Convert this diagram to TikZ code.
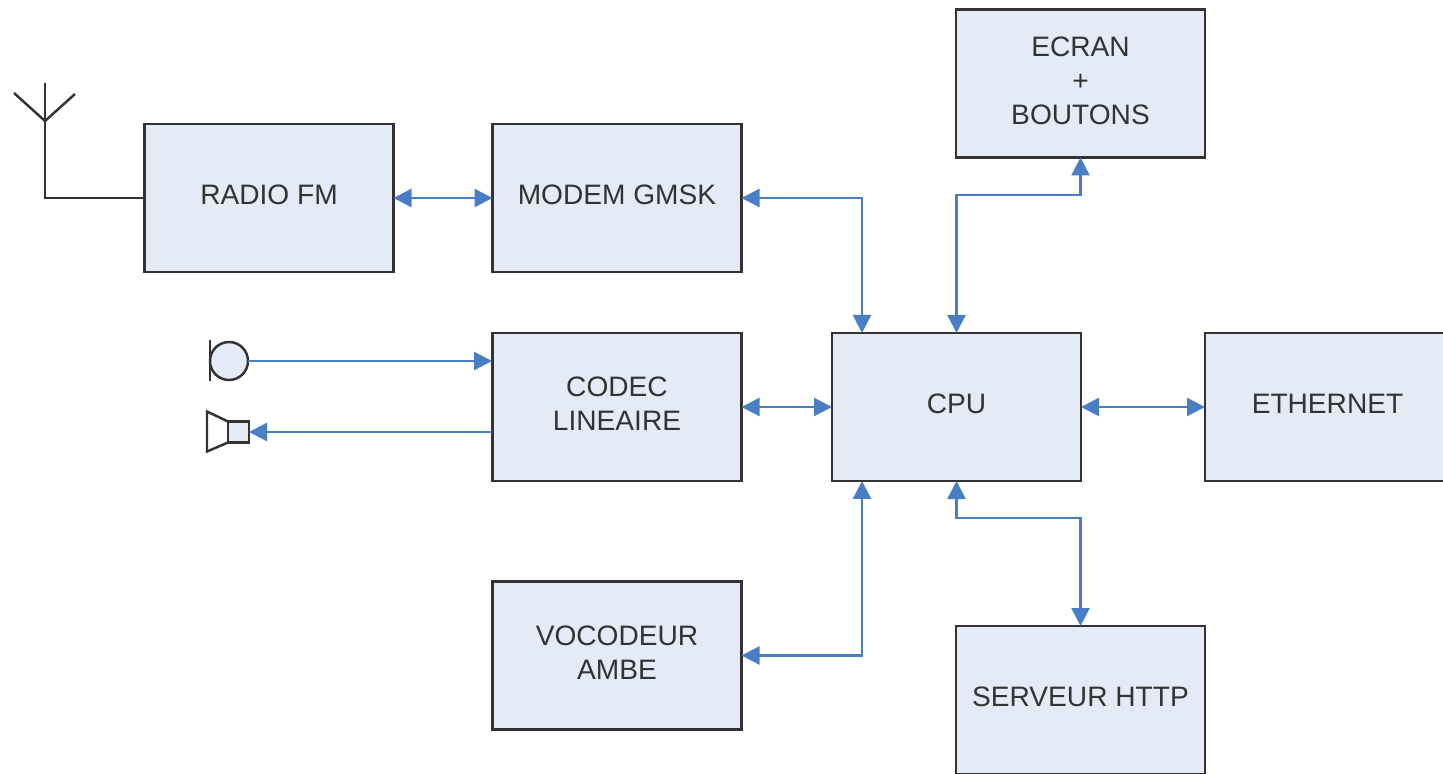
\documentclass[tikz,border=0pt]{standalone}
\usepackage{fontspec}
\setmainfont{Liberation Sans}
\usetikzlibrary{arrows.meta}
\definecolor{boxfill}{HTML}{E4EBF6}
\definecolor{boxline}{HTML}{333333}
\definecolor{linkblue}{HTML}{4A7EC4}
\tikzset{
  block/.style={draw=boxline, line width=1.4pt, fill=boxfill, text=black!80, align=center, outer sep=0pt,
    minimum width=4.98cm, minimum height=2.96cm, inner sep=0pt, text depth=3.4pt, font=\fontsize{16}{19.3}\selectfont},
  link/.style={draw=linkblue, line width=1.4pt, {Triangle[length=0.36cm,width=0.36cm]}-{Triangle[length=0.36cm,width=0.36cm]}},
  linkone/.style={draw=linkblue, line width=1.4pt, -{Triangle[length=0.36cm,width=0.36cm]}},
  wire/.style={draw=boxline, line width=1.4pt}
}
\begin{document}
\begin{tikzpicture}
\useasboundingbox (0,0) rectangle (28.86,-15.48);
% blocks
\node[block] (radio) at (5.38,-3.96) {RADIO FM};
\node[block] (modem) at (12.34,-3.96) {MODEM GMSK};
\node[block] (codec) at (12.34,-8.14) {CODEC\\LINEAIRE};
\node[block] (cpu) at (19.13,-8.14) {CPU};
\node[block, minimum width=4.9cm] (ethernet) at (26.55,-8.14) {ETHERNET};
\node[block] (ecran) at (21.61,-1.67) {ECRAN\\+\\BOUTONS};
\node[block] (vocodeur) at (12.34,-13.11) {VOCODEUR\\AMBE};
\node[block] (serveur) at (21.61,-14.0) {SERVEUR HTTP};
% micro and speaker
\node[circle, wire, fill=boxfill, minimum size=0.76cm, inner sep=0pt, outer sep=0pt] (mic) at (4.58,-7.22) {};
\node[rectangle, wire, fill=boxfill, minimum size=0.42cm, inner sep=0pt, outer sep=0pt] (speaker) at (4.77,-8.64) {};
\draw[wire] (mic.west) ++(0,0.41) -- ++(0,-0.82);
\draw[wire] (speaker.north west) -- ++(-0.42,0.2) -- ++(0,-0.8) -- (speaker.south west);
% antenna
\coordinate (anttop) at (0.9,-1.66);
\coordinate (antfoot) at (0.9,-3.96);
\coordinate (antfork) at (0.9,-2.42);
\coordinate (antleft) at (0.28,-1.86);
\coordinate (antright) at (1.5,-1.88);
\draw[wire] (anttop) -- (antfoot) -- (radio.west);
\draw[wire] (antleft) -- (antfork) -- (antright);
% links
\coordinate (cpunw) at (17.24,-6.66);
\coordinate (cpusw) at (17.24,-9.62);
\coordinate (codecmic) at (9.84,-7.22);
\coordinate (codecspk) at (9.84,-8.64);
\draw[link] (radio.east) -- (modem.west);
\draw[link] (modem.east) -| (cpunw);
\draw[link] (codec.east) -- (cpu.west);
\draw[link] (cpu.east) -- (ethernet.west);
\draw[link] (cpu.north) |- (19.13,-3.9) -| (ecran.south);
\draw[link] (cpu.south) |- (19.13,-10.36) -| (serveur.north);
\draw[link] (vocodeur.east) -| (cpusw);
\draw[linkone] (mic.east) -- (codecmic);
\draw[linkone] (codecspk) -- (speaker.east);
\end{tikzpicture}
\end{document}
